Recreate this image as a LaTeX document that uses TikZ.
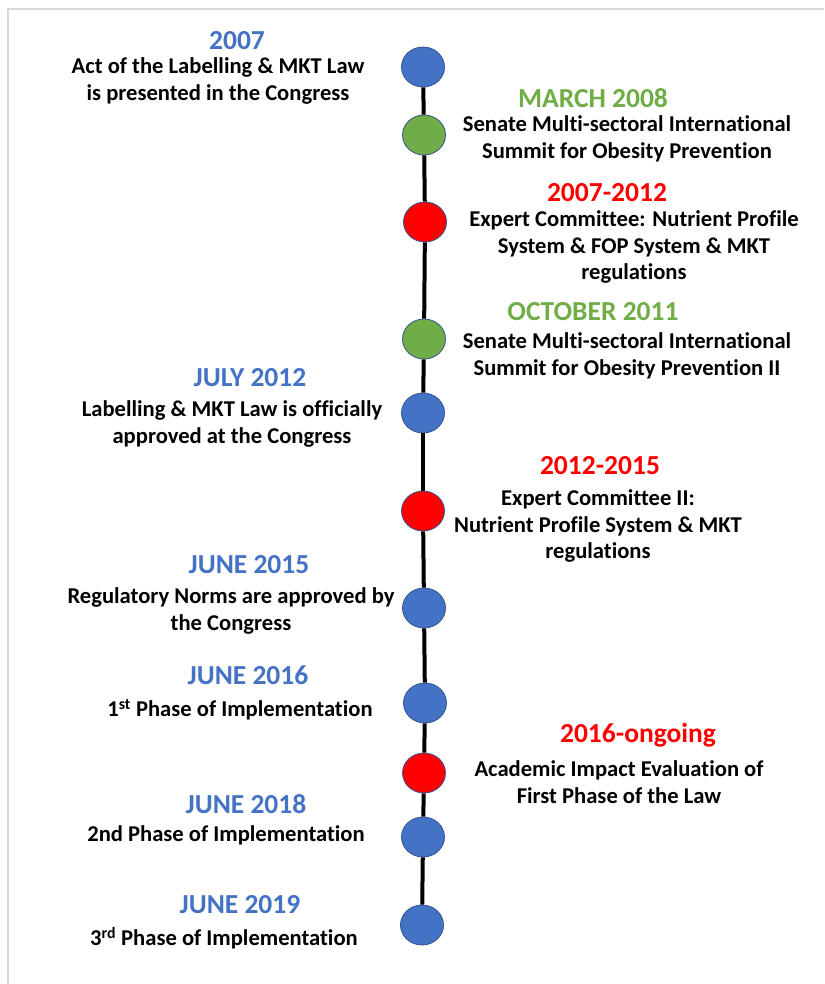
\documentclass[tikz,border=0pt]{standalone}
\usepackage{fontspec}
\setmainfont{Carlito}[Ligatures=NoCommon]
\usetikzlibrary{shapes.geometric}

\definecolor{lawblue}{HTML}{4472C4}
\definecolor{lawgreen}{HTML}{70AD47}
\definecolor{lawred}{HTML}{FF0000}
\definecolor{rimblue}{HTML}{2F528F}
\definecolor{framegray}{HTML}{D9D9D9}

\tikzset{
  dot/.style={ellipse,draw=rimblue,line width=0.8pt,minimum width=43pt,minimum height=40pt,inner sep=0pt},
  datetxt/.style={font=\fontsize{27.5}{31}\selectfont\bfseries,inner sep=0pt},
  bodytxt/.style={font=\fontsize{22.6}{26.5}\selectfont\bfseries,align=center,inner sep=0pt},
}

\begin{document}
\begin{tikzpicture}[x=1pt,y=-1pt]
    \useasboundingbox (0,0) rectangle (824,984);
%    \draw[orange,thin] (0,0) grid[step=100] (824,984);

    % frame
    \draw[framegray,line width=2pt] (8,984) -- (8,9) -- (824,9);

    % dots on the timeline
    \node [dot,fill=lawblue]  (d1)  at (423,67)  {};
    \node [dot,fill=lawgreen] (d2)  at (424,135) {};
    \node [dot,fill=lawred]   (d3)  at (425,222) {};
    \node [dot,fill=lawgreen] (d4)  at (424,339) {};
    \node [dot,fill=lawblue]  (d5)  at (423,413) {};
    \node [dot,fill=lawred]   (d6)  at (423,511) {};
    \node [dot,fill=lawblue]  (d7)  at (424,608) {};
    \node [dot,fill=lawblue]  (d8)  at (425,703) {};
    \node [dot,fill=lawred]   (d9)  at (424,773) {};
    \node [dot,fill=lawblue]  (d10) at (423,837) {};
    \node [dot,fill=lawblue]  (d11) at (422,925) {};

    \foreach \a/\b in {d1/d2,d2/d3,d3/d4,d4/d5,d5/d6,d6/d7,d7/d8,d8/d9,d9/d10,d10/d11}
        \draw[black,line width=4pt] (\a) -- (\b);

    % left side
    \node [datetxt,text=lawblue] (t1) at (237,41) {2007};
    \node [bodytxt] (b1) at (218,81) {Act of the Labelling \& MKT Law\\is presented in the Congress};

    \node [datetxt,text=lawblue] (t5) at (250,378) {JULY 2012};
    \node [bodytxt] (b5) at (232,424) {Labelling \& MKT Law is officially\\approved at the Congress};

    \node [datetxt,text=lawblue] (t7) at (249,565) {JUNE 2015};
    \node [bodytxt] (b7) at (231,611) {Regulatory Norms are approved by\\the Congress};

    \node [datetxt,text=lawblue] (t8) at (248,675) {JUNE 2016};
    \node [bodytxt] (b8) at (240,710) {1\textsuperscript{st} Phase of Implementation};

    \node [datetxt,text=lawblue] (t10) at (246,804) {JUNE 2018};
    \node [bodytxt] (b10) at (226,835) {2nd Phase of Implementation};

    \node [datetxt,text=lawblue] (t11) at (240,905) {JUNE 2019};
    \node [bodytxt] (b11) at (224,938) {3\textsuperscript{rd} Phase of Implementation};

    % right side
    \node [datetxt,text=lawgreen] (t2) at (593,98) {MARCH 2008};
    \node [bodytxt] (b2) at (627,139) {Senate Multi-sectoral International\\Summit for Obesity Prevention};

    \node [datetxt,text=lawred] (t3) at (607,193) {2007-2012};
    \node [bodytxt] (b3) at (634,247) {Expert Committee: Nutrient Profile\\System \& FOP System \& MKT\\regulations};

    \node [datetxt,text=lawgreen] (t4) at (593,312) {OCTOBER 2011};
    \node [bodytxt] (b4) at (627,356) {Senate Multi-sectoral International\\Summit for Obesity Prevention II};

    \node [datetxt,text=lawred] (t6) at (600,466) {2012-2015};
    \node [bodytxt] (b6) at (598,526) {Expert Committee II:\\Nutrient Profile System \& MKT\\regulations};

    \node [datetxt,text=lawred] (t9) at (638,735) {2016-ongoing};
    \node [bodytxt] (b9) at (619,782) {Academic Impact Evaluation of\\First Phase of the Law};

\end{tikzpicture}
\end{document}
